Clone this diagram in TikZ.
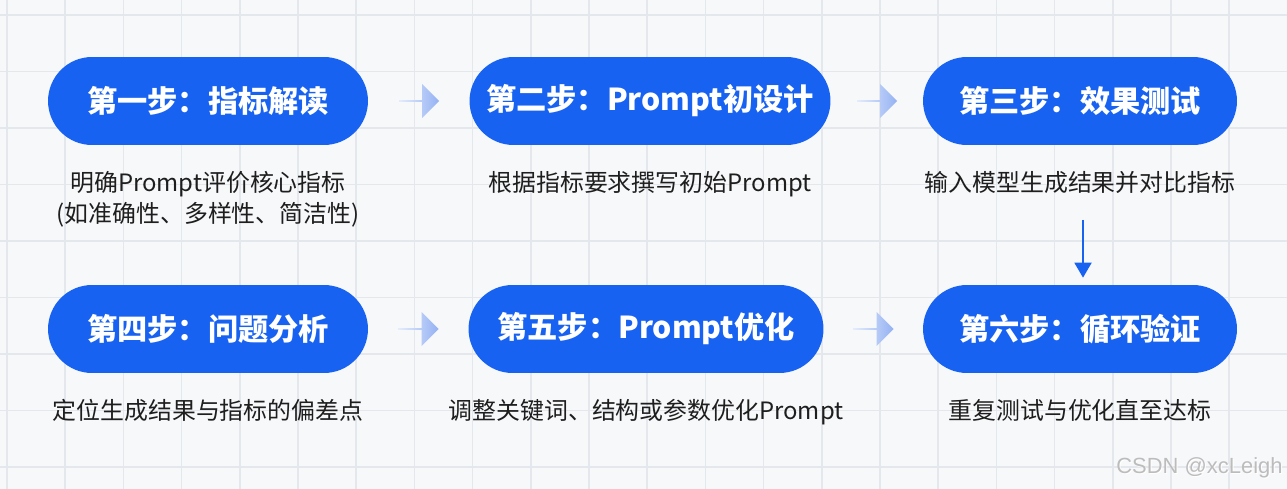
\documentclass[tikz,border=0pt]{standalone}
\usepackage{fontspec}
\setmainfont{Noto Sans CJK SC}
\newfontfamily\markfont{Liberation Sans}
\usetikzlibrary{calc, positioning, shapes.arrows, arrows.meta}

\definecolor{stepblue}{HTML}{1862F2}
\definecolor{gridgray}{HTML}{E4E7EC}
\definecolor{paper}{HTML}{F7F8FA}
\definecolor{textdark}{HTML}{1E1E1E}
\definecolor{arrowpale}{HTML}{E4ECFC}
\definecolor{arrowblue}{HTML}{93B1F3}
\definecolor{markgray}{HTML}{BCBCBC}

\tikzset{
	gridline/.style={draw=gridgray, line width=0.85pt},
	stepnode/.style={rectangle, rounded corners=0.88cm, fill=stepblue, text=white, minimum height=1.76cm, inner sep=0pt, font=\fontsize{17.2}{20}\selectfont\bfseries},
	descnode/.style={inner sep=0pt, align=center, text=textdark, font=\fontsize{13.6}{17.6}\selectfont},
	flowarrow/.style={single arrow, single arrow head extend=0.13cm, single arrow tip angle=90, minimum width=0.68cm, minimum height=0.8cm, inner sep=0pt, left color=arrowpale, right color=arrowblue},
	downarrow/.style={draw=stepblue, line width=1.1pt, -{Triangle[width=0.34cm, length=0.3cm]}, shorten >=0.14cm},
}

\begin{document}
\begin{tikzpicture}[x=0.02cm, y=-0.02cm]
	\def\rowA{101};
	\def\rowB{329};
	\def\colA{208};
	\def\colB{650};
	\def\colC{1080};
	\def\gap{0.52cm};

	\useasboundingbox (0,0) rectangle (1287,489);
	\fill[paper] (0,0) rectangle (1287,489);

	\begin{scope}
		\foreach \gx in {0,...,22}
			\draw[gridline] ({7+58.2*\gx},0) -- ({7+58.2*\gx},489);
		\foreach \gy in {0,...,8}
			\draw[gridline] (0,{15+56.5*\gy}) -- (1287,{15+56.5*\gy});
	\end{scope}

	\node[stepnode, minimum width=6.4cm] (s1) at (\colA,\rowA) {第一步：指标解读};
	\node[stepnode, minimum width=7.22cm] (s2) at (\colB,\rowA) {第二步：Prompt初设计};
	\node[stepnode, minimum width=6.28cm] (s3) at (\colC,\rowA) {第三步：效果测试};
	\node[stepnode, minimum width=6.4cm] (s4) at (\colA,\rowB) {第四步：问题分析};
	\node[stepnode, minimum width=7.1cm] (s5) at (\colB-4,\rowB) {第五步：Prompt优化};
	\node[stepnode, minimum width=6.28cm] (s6) at (\colC,\rowB) {第六步：循环验证};

	\node[descnode, below=\gap of s1] (d1) {明确Prompt评价核心指标\\(如准确性、多样性、简洁性)};
	\node[descnode, below=\gap of s2] (d2) {根据指标要求撰写初始Prompt};
	\node[descnode, below=\gap of s3] (d3) {输入模型生成结果并对比指标};
	\node[descnode, below=\gap of s4] (d4) {定位生成结果与指标的偏差点};
	\node[descnode, below=\gap of s5] (d5) {调整关键词、结构或参数优化Prompt};
	\node[descnode, below=\gap of s6] (d6) {重复测试与优化直至达标};

	\node[flowarrow] (a12) at ($(s1.east)!0.5!(s2.west)$) {};
	\node[flowarrow] (a23) at ($(s2.east)!0.5!(s3.west)$) {};
	\node[flowarrow] (a45) at ($(s4.east)!0.5!(s5.west)$) {};
	\node[flowarrow] (a56) at ($(s5.east)!0.5!(s6.west)$) {};

	\coordinate (t3) at (1083,220);
	\draw[downarrow] (t3) -- (t3 |- s6.north);

	\node[anchor=south east, inner sep=0pt, text=white, font=\markfont\fontsize{12.5}{14}\selectfont] at (1284,479) {CSDN @xcLeigh};
	\node[anchor=south east, inner sep=0pt, text=markgray, font=\markfont\fontsize{12.5}{14}\selectfont] (mark) at (1283,478) {CSDN @xcLeigh};
\end{tikzpicture}
\end{document}
